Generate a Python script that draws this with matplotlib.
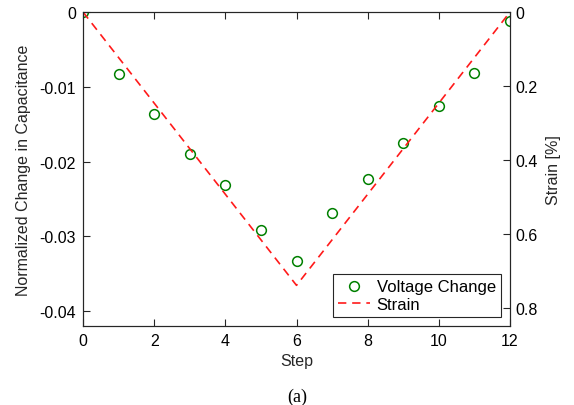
import numpy as np
import matplotlib
matplotlib.use('Agg')
import matplotlib.pyplot as plt

plt.rcParams['font.family'] = ['Liberation Sans', 'DejaVu Sans']

# data
steps = [0, 1, 2, 3, 4, 5, 6, 7, 8, 9, 10, 11, 12]
voltage_change = [0.0, -0.0083, -0.0136, -0.0190, -0.0231, -0.0291, -0.0333,
                  -0.0269, -0.0223, -0.0175, -0.0126, -0.0081, -0.0012]
strain_steps = [0, 6, 12]
strain = [0.0, 0.74, 0.0]

fig = plt.figure(figsize=(5.74, 4.06), dpi=100)
ax = fig.add_axes([83 / 574, 1 - 327 / 406, (510 - 83) / 574, (327 - 13) / 406])
ax2 = ax.twinx()

l1, = ax.plot(steps, voltage_change, 'o', mfc='none', mec='#008000',
              mew=1.1, ms=7, label='Voltage Change')
l2, = ax2.plot(strain_steps, strain, '--', color='#ff1a1a', lw=1.2,
               dashes=(5, 3.5), label='Strain')

ax.set_xlim(0, 12)
ax.set_ylim(-0.042, 0)
ax2.set_ylim(0.85, 0)
ax.set_xticks(np.arange(0, 13, 2))
ax.set_yticks([-0.04, -0.03, -0.02, -0.01, 0])
ax.set_yticklabels(['-0.04', '-0.03', '-0.02', '-0.01', '0'])
ax2.set_yticks([0, 0.2, 0.4, 0.6, 0.8])
ax2.set_yticklabels(['0', '0.2', '0.4', '0.6', '0.8'])

for a in (ax, ax2):
    a.tick_params(direction='in', length=5, width=0.8, labelsize=11.5,
                  colors='#262626', labelcolor='black')
    for sp in a.spines.values():
        sp.set_color('#262626')
        sp.set_linewidth(0.8)
ax.tick_params(top=True, pad=5)
ax2.tick_params(pad=4)

ax.set_xlabel('Step', fontsize=11.5, color='#262626', labelpad=4)
ax.set_ylabel('Normalized Change in Capacitance', fontsize=11.5,
              color='#262626', labelpad=6)
ax2.set_ylabel('Strain [%]', fontsize=11.5, color='#262626', labelpad=6)

leg = ax2.legend([l1, l2], ['Voltage Change', 'Strain'], loc='lower right',
                 fontsize=12, fancybox=False, framealpha=1,
                 edgecolor='#262626', borderaxespad=0.55, handlelength=1.9,
                 handletextpad=0.4, borderpad=0.3, labelspacing=0.15)
leg.get_frame().set_linewidth(0.8)

fig.text(0.517, 1 - 397 / 406, '(a)', ha='center', va='center', fontsize=13,
         family='Liberation Serif')
fig.savefig('out.png', dpi=100)
